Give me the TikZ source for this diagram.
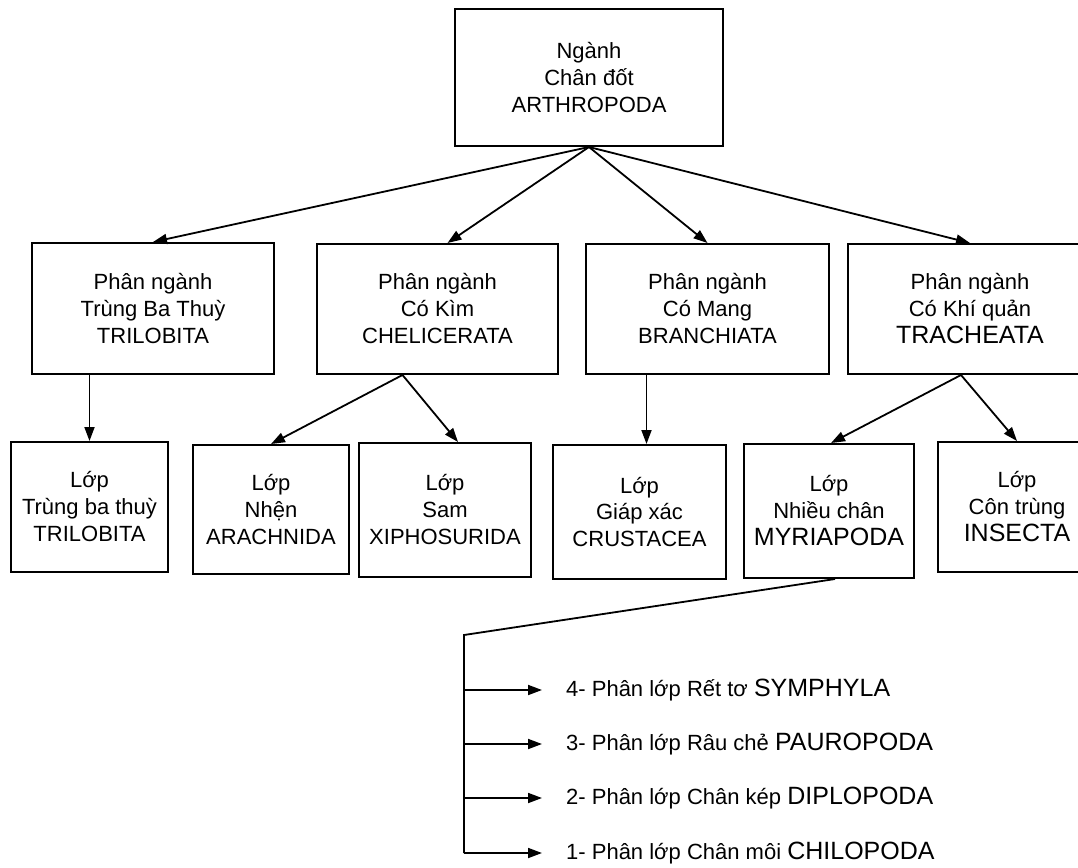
\documentclass[tikz,border=0pt]{standalone}
\usepackage{fontspec}
\setmainfont{Liberation Sans}
\usetikzlibrary{arrows.meta}
\newcommand{\bigt}{\fontsize{25}{27}\selectfont}
\begin{document}
\begin{tikzpicture}[x=1pt,y=-1pt,
  box/.style={draw,line width=2pt,rectangle,inner sep=0pt,align=center,
    font=\fontsize{22}{27}\selectfont},
  arr/.style={line width=1.8pt,-{Triangle[length=14pt,width=10pt]}},
  ln/.style={line width=1.8pt},
  item/.style={anchor=west,inner sep=0pt,font=\fontsize{22}{27}\selectfont}]
\useasboundingbox (0,0) rectangle (1078,867);
\clip (0,0) rectangle (1078,867);
% level 0
\node[box,minimum width=268pt,minimum height=137pt] (root) at (589,77.5) {Ngành\\Chân đốt\\ARTHROPODA};
% level 1
\node[box,minimum width=242pt,minimum height=131pt] (tri) at (153,308.5) {Phân ngành\\Trùng Ba Thuỳ\\TRILOBITA};
\node[box,minimum width=241pt,minimum height=130pt] (che) at (437.5,309) {Phân ngành\\Có Kìm\\CHELICERATA};
\node[box,minimum width=243pt,minimum height=130pt] (bra) at (707.5,309) {Phân ngành\\Có Mang\\BRANCHIATA};
\node[box,minimum width=244pt,minimum height=130pt] (tra) at (970,309) {Phân ngành\\Có Khí quản\\{\bigt TRACHEATA}};
% level 2
\node[box,minimum width=157pt,minimum height=130pt] (l1) at (89.5,507) {Lớp\\Trùng ba thuỳ\\TRILOBITA};
\node[box,minimum width=156pt,minimum height=129pt] (ara) at (271,509.5) {Lớp\\Nhện\\ARACHNIDA};
\node[box,minimum width=172pt,minimum height=134pt] (xip) at (445,510) {Lớp\\Sam\\XIPHOSURIDA};
\node[box,minimum width=173pt,minimum height=134pt] (cru) at (639.5,512) {Lớp\\Giáp xác\\CRUSTACEA};
\node[box,minimum width=170pt,minimum height=134pt] (myr) at (829,511) {Lớp\\Nhiều chân\\{\bigt MYRIAPODA}};
\node[box,minimum width=158pt,minimum height=130pt] (ins) at (1017,507) {Lớp\\Côn trùng\\{\bigt INSECTA}};
% arrows level 0 -> 1
\draw[arr] (root.south) -- (tri.north);
\draw[arr] (root.south) -- ([xshift=10pt]che.north);
\draw[arr] (root.south) -- (bra.north);
\draw[arr] (root.south) -- (tra.north);
% arrows level 1 -> 2
\coordinate (crtop) at ([xshift=7pt]cru.north);
\draw[arr] (tri.south -| l1.north) -- (l1.north);
\draw[arr] ([xshift=-35pt]che.south) -- (ara.north);
\draw[arr] ([xshift=-35pt]che.south) -- ([xshift=13pt]xip.north);
\draw[arr] (bra.south -| crtop) -- (crtop);
\draw[arr] ([xshift=-9pt]tra.south) -- ([xshift=2pt]myr.north);
\draw[arr] ([xshift=-9pt]tra.south) -- (ins.north);
% subclasses
\coordinate (k) at (464,635);
\node[item] (s4) at (566,690) {4- Phân lớp Rết tơ {\bigt SYMPHYLA}};
\node[item] (s3) at (566,744) {3- Phân lớp Râu chẻ {\bigt PAUROPODA}};
\node[item] (s2) at (566,798) {2- Phân lớp Chân kép {\bigt DIPLOPODA}};
\node[item] (s1) at (566,853) {1- Phân lớp Chân môi {\bigt CHILOPODA}};
\coordinate (b4) at (k |- s4.west);
\coordinate (b3) at (k |- s3.west);
\coordinate (b2) at (k |- s2.west);
\coordinate (b1) at (k |- s1.west);
\draw[ln] ([xshift=6pt]myr.south) -- (k) -- (b1);
\draw[arr,shorten >=24pt] (b4) -- (s4.west);
\draw[arr,shorten >=24pt] (b3) -- (s3.west);
\draw[arr,shorten >=24pt] (b2) -- (s2.west);
\draw[arr,shorten >=24pt] (b1) -- (s1.west);
\end{tikzpicture}
\end{document}
